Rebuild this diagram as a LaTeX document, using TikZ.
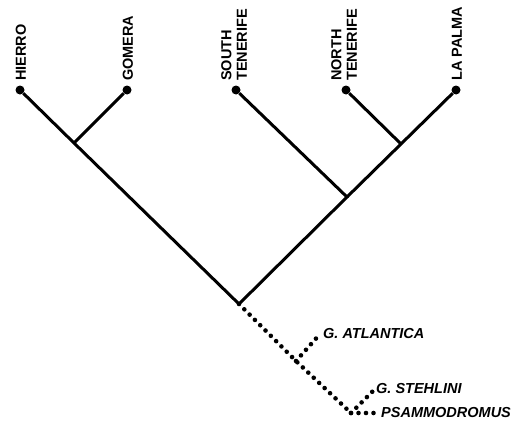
\documentclass[tikz,border=0pt]{standalone}
\usepackage{fontspec}
\setmainfont{Liberation Sans}
\usepackage{tikz}
\usetikzlibrary{calc}
\tikzset{>=latex}

\begin{document}
\begin{tikzpicture}[x=1pt,y=-1pt,
  branch/.style={line width=3pt},
  outgroup/.style={line width=4.6pt,line cap=round,dash pattern=on 0pt off 7.5pt},
  tip/.style={circle,fill,inner sep=0pt,minimum size=9pt},
  island/.style={rotate=90,anchor=west,align=left,inner sep=0pt,font=\fontsize{14.5}{15.5}\selectfont\bfseries},
  taxon/.style={anchor=west,inner sep=0pt,font=\fontsize{14.5}{15}\selectfont\bfseries\itshape}]
\useasboundingbox (0,0) rectangle (529,420);
% tips
\node[tip] (hierro) at (20,90) {};
\node[tip] (gomera) at (127,90) {};
\node[tip] (stenerife) at (236,90) {};
\node[tip] (ntenerife) at (346,90) {};
\node[tip] (lapalma) at (456,90) {};
\node[island] (hierrolab) at ($(hierro)+(1,-9)$) {HIERRO};
\node[island] (gomeralab) at ($(gomera)+(1,-9)$) {GOMERA};
\node[island] (stenerifelab) at ($(stenerife)+(-2,-9)$) {SOUTH\\TENERIFE};
\node[island] (ntenerifelab) at ($(ntenerife)+(-2,-9)$) {NORTH\\TENERIFE};
\node[island] (lapalmalab) at ($(lapalma)+(1,-9)$) {LA PALMA};
% internal nodes
\coordinate (west) at (74,143);
\coordinate (nlp) at (401,144);
\coordinate (east) at (347,197);
\coordinate (root) at (239,304);
\coordinate (atl) at (296,361);
\coordinate (out) at (351,413);
\coordinate (atltip) at (320,334);
\coordinate (stetip) at (374,390);
\coordinate (psatip) at (377,413);
% western and eastern clades
\draw[branch] (hierro) -- (west) -- (root);
\draw[branch] (gomera) -- (west);
\draw[branch] (stenerife) -- (east) -- (root);
\draw[branch] (ntenerife) -- (nlp);
\draw[branch] (lapalma) -- (nlp) -- (east);
% outgroups
\draw[outgroup] (root) -- (atl) -- (out);
\draw[outgroup] (atl) -- (atltip);
\draw[outgroup] (out) -- (stetip);
\draw[outgroup] (out) -- (psatip);
\node[taxon] (atlantica) at ($(atltip)+(3,0)$) {G. ATLANTICA};
\node[taxon] (stehlini) at ($(stetip)+(2,-1)$) {G. STEHLINI};
\node[taxon] (psammo) at ($(psatip)+(4,0)$) {PSAMMODROMUS};
\end{tikzpicture}
\end{document}
